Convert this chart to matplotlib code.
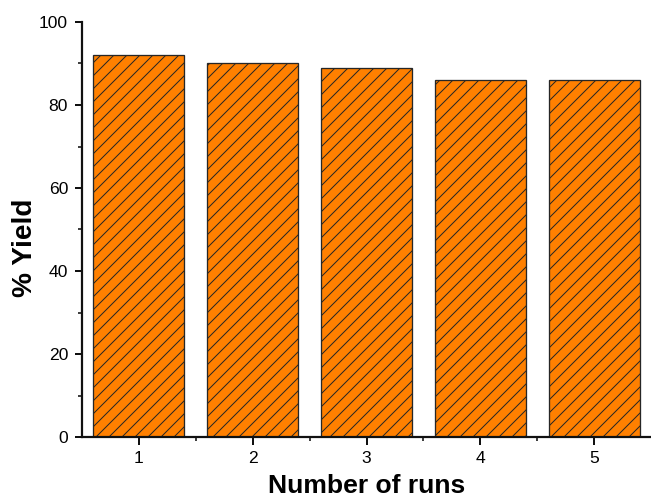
import matplotlib
matplotlib.use("Agg")
import matplotlib.pyplot as plt
from matplotlib.ticker import MultipleLocator, FixedLocator

runs = [1, 2, 3, 4, 5]
yield_pct = [92, 90, 89, 86, 86]
yticks = [0, 20, 40, 60, 80, 100]

DPI = 78


def px(v):
    # pixel size -> points at this dpi
    return v * 72.0 / DPI


plt.rcParams['font.family'] = ['Liberation Sans', 'DejaVu Sans']
plt.rcParams['hatch.linewidth'] = px(1.0)

fig = plt.figure(figsize=(651 / DPI, 499 / DPI), dpi=DPI)
ax = fig.add_axes([82 / 651, 1 - 437 / 499, 1 - 82 / 651, (437 - 22) / 499])

ax.bar(runs, yield_pct, width=0.8, color='#ff8000', edgecolor='#262626',
       linewidth=px(1.3), hatch='//')

ax.set_xlim(0.5, 5.5)
ax.set_ylim(0, 100)
ax.set_xticks(runs)
ax.set_yticks(yticks)
ax.xaxis.set_minor_locator(FixedLocator([1.5, 2.5, 3.5, 4.5]))
ax.yaxis.set_minor_locator(MultipleLocator(10))

for s in ['top', 'right']:
    ax.spines[s].set_visible(False)
for s in ['left', 'bottom']:
    ax.spines[s].set_linewidth(px(2.2))
    ax.spines[s].set_color('#111111')

ax.tick_params(which='major', direction='out', length=px(7.5), width=px(2),
               labelsize=px(17.5), pad=px(6.5), color='#111111')
ax.tick_params(which='minor', direction='out', length=px(4), width=px(1.6),
               color='#111111')

ax.set_xlabel('Number of runs', fontsize=px(26.5), fontweight='bold', labelpad=px(8))
ax.set_ylabel('% Yield', fontsize=px(28), fontweight='bold')
ax.yaxis.set_label_coords(-0.077, 0.457)

fig.savefig('out.png', dpi=DPI)
